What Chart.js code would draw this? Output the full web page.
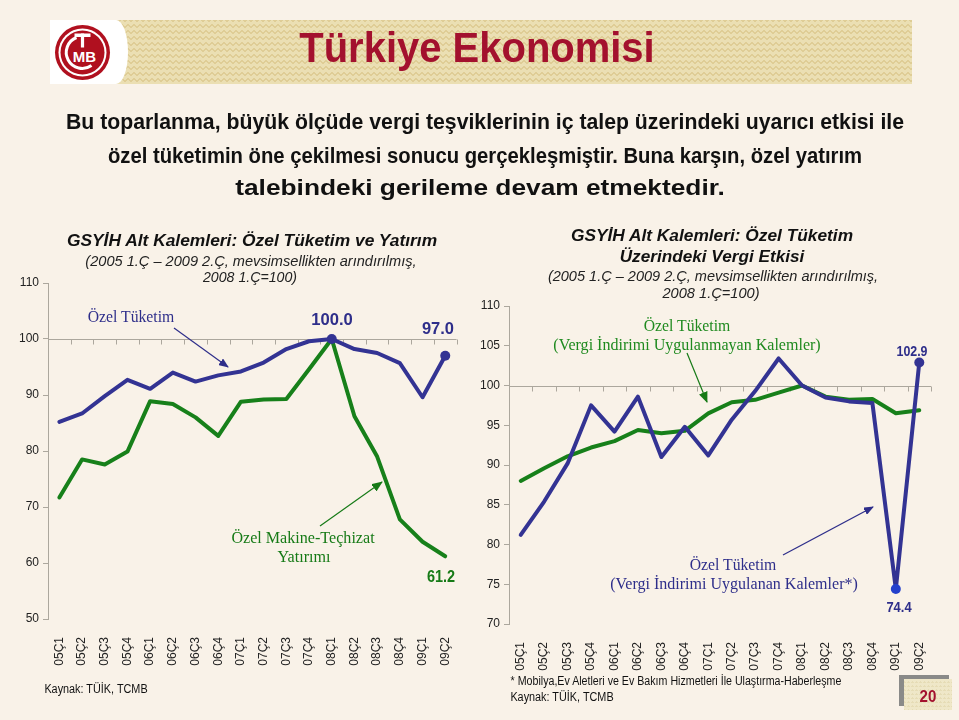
<!DOCTYPE html>
<html>
<head>
<meta charset="utf-8">
<script src="https://cdn.jsdelivr.net/npm/chart.js@4.4.0/dist/chart.umd.min.js"></script>
<style>
  html,body{margin:0;padding:0;}
  body{width:959px;height:720px;background:#f9f2e8;position:relative;overflow:hidden;font-family:'Liberation Sans',Arial,sans-serif;}
  .t{position:absolute;white-space:nowrap;line-height:1;transform-origin:center center;}
  .banner{position:absolute;left:50px;top:20px;width:862px;height:64px;
    background-color:#ebdfb3;
    background-image:
      linear-gradient(135deg,#dfcd96 25%,transparent 25%),
      linear-gradient(225deg,#dfcd96 25%,transparent 25%),
      linear-gradient(315deg,#dfcd96 25%,transparent 25%),
      linear-gradient(45deg,#dfcd96 25%,transparent 25%);
    background-size:6px 6px;background-position:-3px 0,-3px 0,0 0,0 0;}
  .logoBg{position:absolute;left:50px;top:20px;width:78px;height:64px;background:#fff;
    border-top-right-radius:12px 32px;border-bottom-right-radius:12px 32px;}
  canvas{position:absolute;}
  .pgShadow1{position:absolute;left:899px;top:675px;width:50px;height:4px;background:#8a8a88;}
  .pgShadow2{position:absolute;left:899px;top:675px;width:5px;height:31px;background:#8a8a88;}
  .pgBox{position:absolute;left:904px;top:679px;width:48px;height:31px;background:#efe7c8;
    background-image:linear-gradient(45deg,#e6dcb6 25%,transparent 25%),linear-gradient(-45deg,#e6dcb6 25%,transparent 25%);background-size:4px 4px;}
</style>
</head>
<body>
<div class="banner"></div>
<div class="logoBg"></div>
<svg style="position:absolute;left:0;top:0" width="959" height="720">
  <g transform="translate(82.5,52.5)">
    <circle r="27.5" fill="#b0101f"/>
    <circle r="24" fill="#fff"/>
    <circle r="22" fill="#b0101f"/>
    <path d="M -6 -15 A 16 16 0 1 0 9 13" fill="none" stroke="#fff" stroke-width="3"/>
    <rect x="-8" y="-19" width="16" height="3.5" fill="#fff"/>
    <rect x="-1.6" y="-19" width="3.2" height="14" fill="#fff"/>
    <text x="2" y="9" text-anchor="middle" font-family="Liberation Sans" font-weight="bold" font-size="15" fill="#fff">MB</text>
  </g>
</svg>

<canvas id="cL" width="470" height="420" style="left:0px;top:270px;width:470px;height:420px"></canvas>
<canvas id="cR" width="489" height="400" style="left:470px;top:290px;width:489px;height:400px"></canvas>

<svg style="position:absolute;left:0;top:0;pointer-events:none" width="959" height="720">
  <defs>
    <marker id="aB" markerWidth="10" markerHeight="8" refX="9" refY="4" orient="auto" markerUnits="userSpaceOnUse">
      <path d="M0,0 L10,4 L0,8 Z" fill="#2e2e8a"/>
    </marker>
    <marker id="aG" markerWidth="11" markerHeight="9" refX="10" refY="4.5" orient="auto" markerUnits="userSpaceOnUse">
      <path d="M0,0 L11,4.5 L0,9 Z" fill="#167a16"/>
    </marker>
  </defs>
  <line x1="174" y1="328" x2="228" y2="367" stroke="#2e2e8a" stroke-width="1.2" marker-end="url(#aB)"/>
  <line x1="320" y1="526" x2="382" y2="482" stroke="#167a16" stroke-width="1.2" marker-end="url(#aG)"/>
  <line x1="687" y1="353" x2="707" y2="402" stroke="#167a16" stroke-width="1.2" marker-end="url(#aG)"/>
  <line x1="783" y1="555" x2="873" y2="507" stroke="#2e2e8a" stroke-width="1.2" marker-end="url(#aB)"/>
</svg>

<div class="t" data-x="477" data-y="48" data-w="355" style="font:bold 42px 'Liberation Sans';color:#a3112e">Türkiye Ekonomisi</div>

<div class="t" data-x="485" data-y="122" data-w="838" style="font:bold 22px 'Liberation Sans';color:#111">Bu toparlanma, büyük ölçüde vergi teşviklerinin iç talep üzerindeki uyarıcı etkisi ile</div>
<div class="t" data-x="485" data-y="156" data-w="754" style="font:bold 22px 'Liberation Sans';color:#111">özel tüketimin öne çekilmesi sonucu gerçekleşmiştir. Buna karşın, özel yatırım</div>
<div class="t" data-x="480" data-y="188" data-w="490" style="font:bold 22px 'Liberation Sans';color:#111">talebindeki gerileme devam etmektedir.</div>

<div class="t" data-x="252" data-y="241" data-w="370" style="font:italic bold 17px 'Liberation Sans';color:#111">GSYİH Alt Kalemleri: Özel Tüketim ve Yatırım</div>
<div class="t" data-x="251" data-y="261" data-w="331" style="font:italic 14px 'Liberation Sans';color:#222">(2005 1.Ç – 2009 2.Ç, mevsimsellikten arındırılmış,</div>
<div class="t" data-x="250" data-y="277" data-w="94" style="font:italic 14px 'Liberation Sans';color:#222">2008 1.Ç=100)</div>

<div class="t" data-x="131" data-y="317" data-w="87" style="font:17px 'Liberation Serif';color:#2e2e8a">Özel Tüketim</div>
<div class="t" data-x="332" data-y="320" data-w="42" style="font:bold 17px 'Liberation Sans';color:#2e2e8a">100.0</div>
<div class="t" data-x="438" data-y="329" data-w="32" style="font:bold 17px 'Liberation Sans';color:#2e2e8a">97.0</div>
<div class="t" data-x="303" data-y="538" data-w="143" style="font:17px 'Liberation Serif';color:#167a16">Özel Makine-Teçhizat</div>
<div class="t" data-x="304" data-y="557" data-w="53" style="font:17px 'Liberation Serif';color:#167a16">Yatırımı</div>
<div class="t" data-x="441" data-y="577" data-w="28" style="font:bold 16px 'Liberation Sans';color:#167a16">61.2</div>

<div class="t" data-x="712" data-y="236" data-w="282" style="font:italic bold 17px 'Liberation Sans';color:#111">GSYİH Alt Kalemleri: Özel Tüketim</div>
<div class="t" data-x="712" data-y="257" data-w="185" style="font:italic bold 17px 'Liberation Sans';color:#111">Üzerindeki Vergi Etkisi</div>
<div class="t" data-x="713" data-y="276" data-w="330" style="font:italic 14px 'Liberation Sans';color:#222">(2005 1.Ç – 2009 2.Ç, mevsimsellikten arındırılmış,</div>
<div class="t" data-x="711" data-y="293" data-w="97" style="font:italic 14px 'Liberation Sans';color:#222">2008 1.Ç=100)</div>
<div class="t" data-x="687" data-y="326" data-w="87" style="font:17px 'Liberation Serif';color:#1f8a1f">Özel Tüketim</div>
<div class="t" data-x="687" data-y="345" data-w="267" style="font:17px 'Liberation Serif';color:#1f8a1f">(Vergi İndirimi Uygulanmayan Kalemler)</div>
<div class="t" data-x="912" data-y="351" data-w="31" style="font:bold 14px 'Liberation Sans';color:#2e2e8a">102.9</div>
<div class="t" data-x="733" data-y="565" data-w="87" style="font:17px 'Liberation Serif';color:#2e2e8a">Özel Tüketim</div>
<div class="t" data-x="734" data-y="584" data-w="248" style="font:17px 'Liberation Serif';color:#2e2e8a">(Vergi İndirimi Uygulanan Kalemler*)</div>
<div class="t" data-x="899" data-y="607" data-w="25" style="font:bold 14px 'Liberation Sans';color:#2e2e8a">74.4</div>

<div class="t" data-x="96" data-y="689" data-w="103" style="font:12px 'Liberation Sans';color:#111">Kaynak: TÜİK, TCMB</div>
<div class="t" data-x="676" data-y="681" data-w="331" style="font:12px 'Liberation Sans';color:#111">* Mobilya,Ev Aletleri ve Ev Bakım Hizmetleri İle Ulaştırma-Haberleşme</div>
<div class="t" data-x="562" data-y="697" data-w="103" style="font:12px 'Liberation Sans';color:#111">Kaynak: TÜİK, TCMB</div>

<div class="pgShadow1"></div>
<div class="pgShadow2"></div>
<div class="pgBox"></div>
<div class="t" data-x="928" data-y="697" data-w="17" style="font:bold 16px 'Liberation Sans';color:#a3112e">20</div>

<script>
// ---------- data ----------
const quarters = ['05Ç1','05Ç2','05Ç3','05Ç4','06Ç1','06Ç2','06Ç3','06Ç4','07Ç1','07Ç2','07Ç3','07Ç4','08Ç1','08Ç2','08Ç3','08Ç4','09Ç1','09Ç2'];
const privateConsumption = [85.2, 86.7, 89.8, 92.7, 91.1, 94.0, 92.4, 93.5, 94.2, 95.8, 98.2, 99.6, 100.0, 98.2, 97.5, 95.7, 89.6, 97.0];
const machineryInvestment = [71.7, 78.5, 77.6, 79.9, 88.9, 88.4, 86.0, 82.7, 88.8, 89.2, 89.3, 94.6, 100.0, 86.2, 79.0, 67.8, 63.8, 61.2];
const consumptionNoTaxCut = [88.0, 89.6, 91.1, 92.2, 93.0, 94.4, 94.0, 94.3, 96.5, 97.9, 98.2, 99.1, 100.0, 98.6, 98.2, 98.3, 96.5, 96.9];
const consumptionTaxCut = [81.2, 85.4, 90.2, 97.5, 94.2, 98.6, 91.0, 94.8, 91.2, 95.7, 99.3, 103.4, 100.0, 98.5, 98.0, 97.8, 74.4, 102.9];
const leftTicks = [50, 60, 70, 80, 90, 100, 110];
const rightTicks = [70, 75, 80, 85, 90, 95, 100, 105, 110];
const markedLeft = ['08Ç1', '09Ç2'];
const markedRight = ['09Ç1', '09Ç2'];

// ---------- text fitting ----------
document.querySelectorAll('.t').forEach(el => {
  const x = +el.dataset.x, y = +el.dataset.y;
  el.style.left = x + 'px';
  el.style.top = y + 'px';
  const nat = el.offsetWidth;
  const s = nat > 0 ? (+el.dataset.w) / nat : 1;
  el.style.transform = 'translate(-50%,-50%) scaleX(' + s.toFixed(4) + ')';
});

const BLUE = '#333393';
const GREEN = '#17801a';
const AXIS = '#aca79d';
const FONT = 'Liberation Sans';

const baseLine = {
  id: 'baseLine',
  beforeDatasetsDraw(chart) {
    const { ctx, chartArea, scales } = chart;
    const y = Math.round(scales.y.getPixelForValue(100)) + 0.5;
    const xs = scales.x;
    const step = xs.getPixelForValue(1) - xs.getPixelForValue(0);
    ctx.save();
    ctx.strokeStyle = AXIS;
    ctx.lineWidth = 1;
    ctx.beginPath();
    ctx.moveTo(chartArea.left, y);
    ctx.lineTo(chartArea.right, y);
    for (let i = 0; i <= quarters.length; i++) {
      const x = Math.round(xs.getPixelForValue(0) - step / 2 + i * step) + 0.5;
      ctx.moveTo(x, y);
      ctx.lineTo(x, y + 5);
    }
    ctx.stroke();
    ctx.restore();
  }
};

function makeChart(id, ds, yMin, yMax, yStep, tickVals, pad, yWidth, xHeight) {
  return new Chart(document.getElementById(id), {
    type: 'line',
    data: { labels: quarters, datasets: ds },
    options: {
      responsive: false,
      animation: false,
      devicePixelRatio: 1,
      layout: { padding: pad },
      plugins: { legend: { display: false }, tooltip: { enabled: false } },
      elements: { line: { tension: 0, borderJoinStyle: 'round', borderCapStyle: 'round' } },
      scales: {
        x: {
          type: 'category',
          offset: true,
          grid: { display: false },
          border: { display: false },
          ticks: { autoSkip: false, minRotation: 90, maxRotation: 90, padding: 10, color: '#222', font: { family: FONT, size: 12 } },
          afterFit: s => { s.height = xHeight; }
        },
        y: {
          min: yMin, max: yMax,
          afterBuildTicks: s => { s.ticks = tickVals.map(v => ({ value: v })); },
          ticks: { stepSize: yStep, padding: 4, color: '#222', font: { family: FONT, size: 12 } },
          grid: { drawOnChartArea: false, drawTicks: true, tickLength: 5, color: AXIS },
          border: { display: true, color: AXIS, width: 1 },
          afterFit: s => { s.width = yWidth; }
        }
      }
    },
    plugins: [baseLine]
  });
}

makeChart('cL', [
  { data: privateConsumption, borderColor: BLUE, borderWidth: 4, backgroundColor: BLUE,
    pointRadius: c => markedLeft.includes(quarters[c.dataIndex]) ? 5 : 0,
    pointBackgroundColor: BLUE, pointBorderWidth: 0 },
  { data: machineryInvestment, borderColor: GREEN, borderWidth: 4, pointRadius: 0 }
], 50, 110, 10, leftTicks, { left: 0, top: 13, right: 12.7, bottom: 0 }, 48, 71);

makeChart('cR', [
  { data: consumptionTaxCut, borderColor: BLUE, borderWidth: 4, backgroundColor: BLUE,
    pointRadius: c => markedRight.includes(quarters[c.dataIndex]) ? 5 : 0,
    pointBackgroundColor: c => quarters[c.dataIndex] === '09Ç1' ? '#2440cc' : BLUE, pointBorderWidth: 0 },
  { data: consumptionNoTaxCut, borderColor: GREEN, borderWidth: 4, pointRadius: 0 }
], 70, 110, 5, rightTicks, { left: 0, top: 16, right: 28, bottom: 0 }, 39, 66);
</script>
</body>
</html>
